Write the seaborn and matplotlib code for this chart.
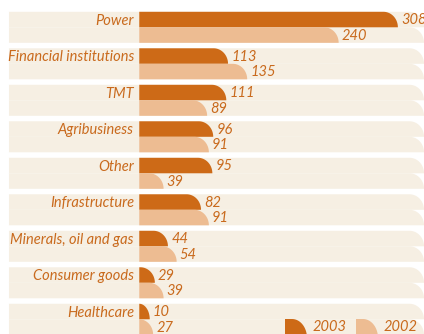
import numpy as np
import pandas as pd
import matplotlib
matplotlib.use("Agg")
import matplotlib.pyplot as plt
import seaborn as sns
from matplotlib.path import Path
from matplotlib.patches import PathPatch

categories = ["Power", "Financial institutions", "TMT", "Agribusiness", "Other",
              "Infrastructure", "Minerals, oil and gas", "Consumer goods", "Healthcare"]
values_2003 = [308, 113, 111, 96, 95, 82, 44, 29, 10]
values_2002 = [240, 135, 89, 91, 39, 91, 54, 39, 27]
years = ["2003", "2002"]

DARK = "#CD6A17"
LIGHT = "#EDBC92"
BAND = "#F6EFE3"
TXT = "#C96A1D"
FS = 10.5

df = pd.DataFrame({
    "sector": categories * 2,
    "year": [years[0]] * len(categories) + [years[1]] * len(categories),
    "value": values_2003 + values_2002,
})

sns.set_theme(style="white")
plt.rcParams["font.family"] = ["Lato", "DejaVu Sans"]

fig = plt.figure(figsize=(4.24, 3.34), dpi=100)
ax = fig.add_axes([0, 0, 1, 1])
sns.barplot(data=df, y="sector", x="value", hue="year", hue_order=years,
            order=categories, palette=[DARK, LIGHT], saturation=1,
            width=0.85, orient="h", ax=ax, legend=False)

ax.set_xlim(-148.8, 338.0)
ax.set_ylim(8.403, -0.748)
ax.axis("off")

RX = 16.6          # corner radius (data units)
BAND_X0 = -138.5   # left edge of the beige bands
BAR_START = 11.1   # visible start of the bars
MIN_LEN = 12.0     # smallest visible bar length
LABEL_X = 5.0


def rounded(x0, x1, ytop, ybot, rx, n=40):
    cx = x1 - rx
    t = np.linspace(0, np.pi / 2, n)
    xs = cx + rx * np.sin(t)
    ys = ybot + (ytop - ybot) * np.cos(t)
    verts = [(x0, ybot), (x0, ytop)] + list(zip(xs, ys)) + [(x0, ybot)]
    codes = [Path.MOVETO] + [Path.LINETO] * (len(verts) - 2) + [Path.CLOSEPOLY]
    return Path(verts, codes)


xmax = ax.get_xlim()[1]
for cont, vals in zip(ax.containers, [values_2003, values_2002]):
    for rect, v in zip(cont, vals):
        y0, h = rect.get_y(), rect.get_height()
        ax.add_patch(PathPatch(rounded(BAND_X0, xmax, y0, y0 + h, RX),
                               facecolor=BAND, edgecolor="none", zorder=0.5))
        x_end = max(rect.get_x() + rect.get_width(), BAR_START + MIN_LEN)
        w = x_end - BAR_START
        ax.add_patch(PathPatch(rounded(BAR_START, x_end, y0, y0 + h, min(w, RX)),
                               facecolor=rect.get_facecolor(), edgecolor="none", zorder=2))
        rect.set_visible(False)
        ax.annotate(str(v), (x_end, y0 + h / 2), xytext=(2.3, -0.6),
                    textcoords="offset points", ha="left", va="center",
                    color=TXT, fontstyle="italic", fontsize=FS, zorder=3)

for rect, name in zip(ax.containers[0], categories):
    yc = rect.get_y() + rect.get_height() / 2
    ax.annotate(name, (LABEL_X, yc), xytext=(0, -0.7), textcoords="offset points",
                ha="right", va="center", color=TXT, fontstyle="italic", fontsize=FS)

# legend
W, H = 424.0, 334.0
def leg_shape(px0, px1, ptop, pbot, prx):
    return rounded(px0 / W, px1 / W, 1 - ptop / H, 1 - pbot / H, prx / W)

for (px0, color, label) in [(285, DARK, years[0]), (356, LIGHT, years[1])]:
    ax.add_patch(PathPatch(leg_shape(px0, px0 + 22, 319, 338, 15),
                           facecolor=color, edgecolor="none", transform=ax.transAxes,
                           zorder=4, clip_on=False))
    ax.text((px0 + 28) / W, 1 - 327 / H, label, transform=ax.transAxes,
            ha="left", va="center", color=TXT, fontstyle="italic", fontsize=FS)

fig.savefig("out.png", dpi=100)
